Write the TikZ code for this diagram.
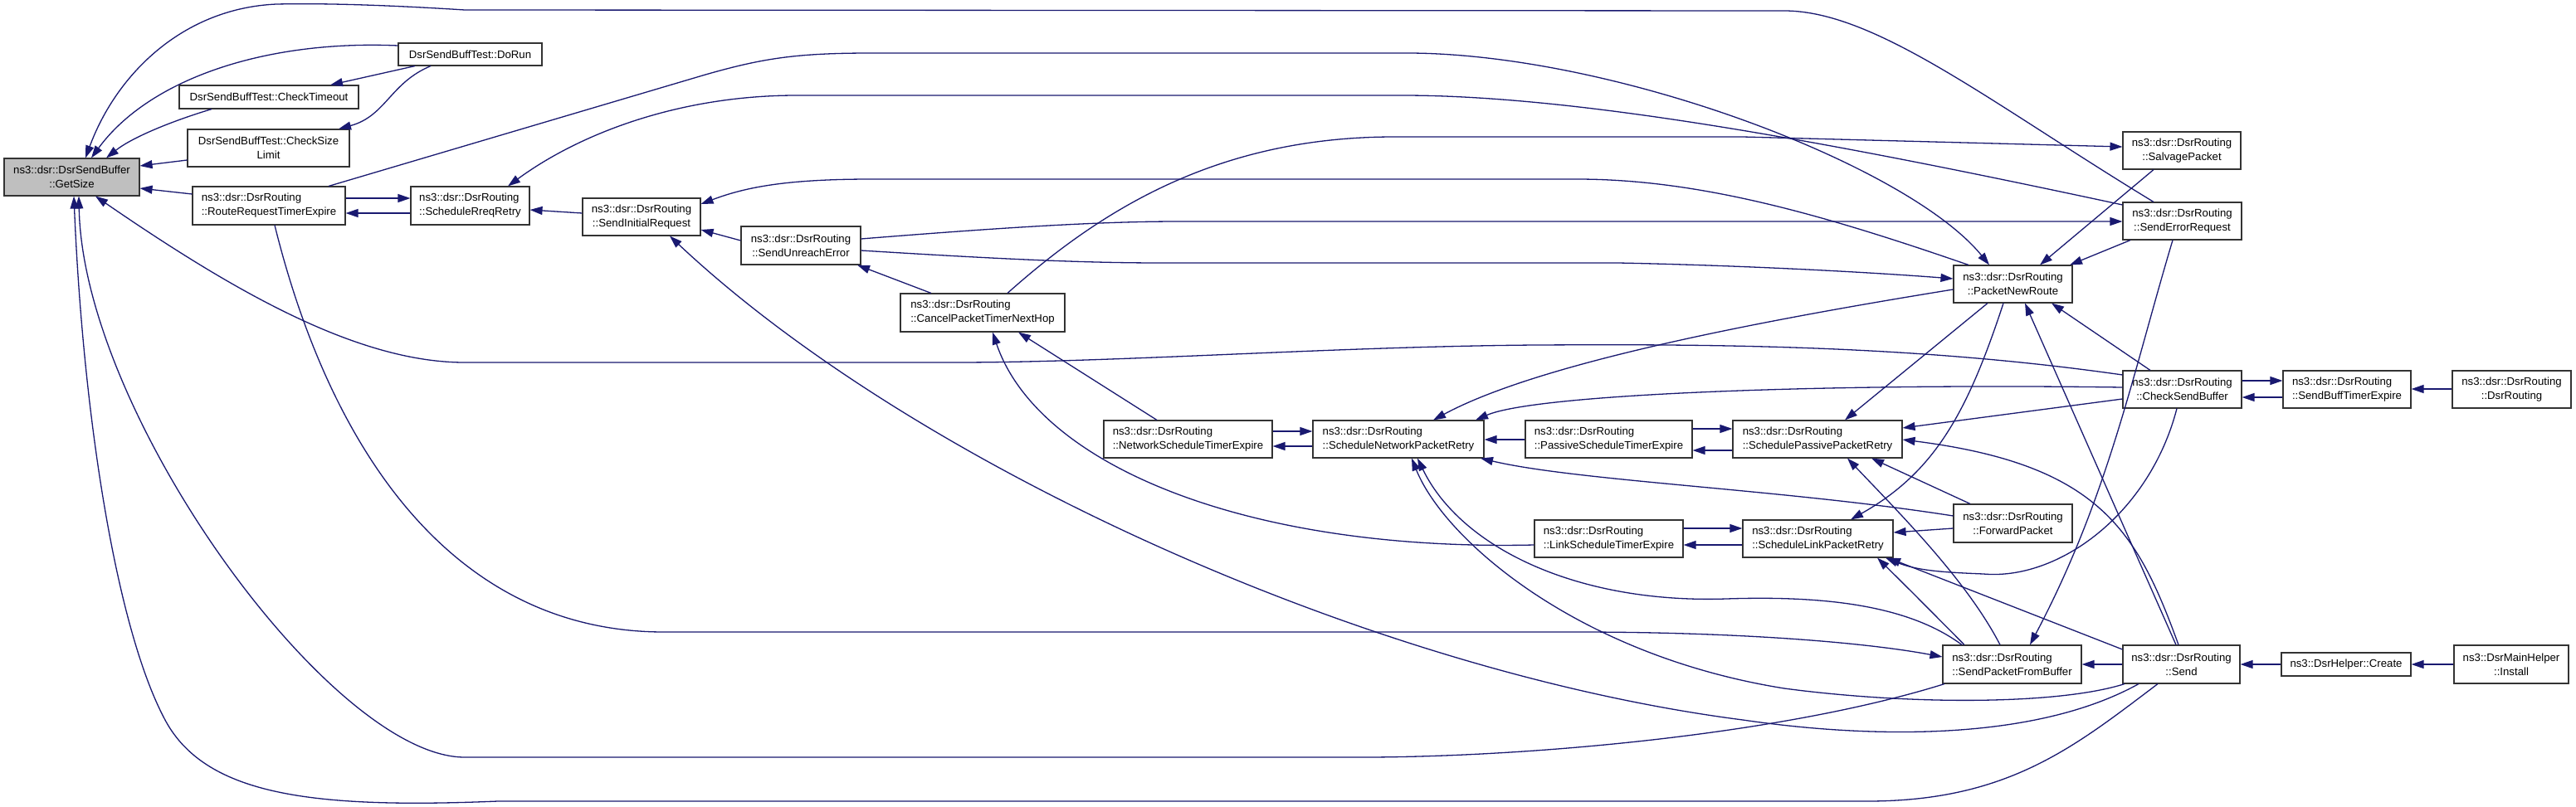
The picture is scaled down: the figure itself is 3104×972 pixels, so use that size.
\documentclass[tikz,border=0pt]{standalone}
\usepackage{fontspec}
\setmainfont{Liberation Sans}
\usetikzlibrary{arrows.meta}
\definecolor{edgec}{RGB}{25,25,112}
\definecolor{rootfill}{RGB}{191,191,191}
\newsavebox\twolA
\newsavebox\twolB
\newcommand\twol[2]{\sbox\twolA{#1}\sbox\twolB{#2}\ifdim\wd\twolA<\wd\twolB\makebox[\wd\twolB][l]{#1}\else#1\fi\\#2}
\newcommand\lbf{\fontsize{13.2}{17}\selectfont}
\tikzset{
  box/.style={draw=black!80, line width=1.1pt, fill=white, inner sep=0pt, align=center, font=\lbf},
  ed/.style={draw=edgec, line width=1.3pt, -{Triangle[length=15pt,width=10pt]}},
}
\begin{document}
\begin{tikzpicture}[x=1pt,y=-1pt]
\fill[white] (0,0) rectangle (3104,972);
\useasboundingbox (0,0) rectangle (3104,972);
% nodes
\node[box, fill=rootfill, minimum width=163pt, minimum height=45pt] (GS) at (86.5,213.5) {\twol{ns3::dsr::DsrSendBuffer}{::GetSize}};
\node[box, minimum width=173pt, minimum height=27pt] (DR) at (566.5,65.5) {DsrSendBuffTest::DoRun};
\node[box, minimum width=216pt, minimum height=28pt] (CT) at (324,117) {DsrSendBuffTest::CheckTimeout};
\node[box, minimum width=195pt, minimum height=45pt] (CSL) at (323.5,178.5) {\twol{DsrSendBuffTest::CheckSize}{Limit}};
\node[box, minimum width=184pt, minimum height=46pt] (RRTE) at (324,248) {\twol{ns3::dsr::DsrRouting}{::RouteRequestTimerExpire}};
\node[box, minimum width=143pt, minimum height=46pt] (SRR) at (566.5,248) {\twol{ns3::dsr::DsrRouting}{::ScheduleRreqRetry}};
\node[box, minimum width=142pt, minimum height=45pt] (SIR) at (773,261.5) {\twol{ns3::dsr::DsrRouting}{::SendInitialRequest}};
\node[box, minimum width=144pt, minimum height=46pt] (SUE) at (965,296) {\twol{ns3::dsr::DsrRouting}{::SendUnreachError}};
\node[box, minimum width=198pt, minimum height=46pt] (CPT) at (1184,377) {\twol{ns3::dsr::DsrRouting}{::CancelPacketTimerNextHop}};
\node[box, minimum width=203pt, minimum height=45pt] (NSTE) at (1431.5,529.5) {\twol{ns3::dsr::DsrRouting}{::NetworkScheduleTimerExpire}};
\node[box, minimum width=206pt, minimum height=45pt] (SNPR) at (1685,529.5) {\twol{ns3::dsr::DsrRouting}{::ScheduleNetworkPacketRetry}};
\node[box, minimum width=201pt, minimum height=45pt] (PSTE) at (1938.5,529.5) {\twol{ns3::dsr::DsrRouting}{::PassiveScheduleTimerExpire}};
\node[box, minimum width=204pt, minimum height=45pt] (SPPR) at (2190,529.5) {\twol{ns3::dsr::DsrRouting}{::SchedulePassivePacketRetry}};
\node[box, minimum width=179pt, minimum height=45pt] (LSTE) at (1938.5,649.5) {\twol{ns3::dsr::DsrRouting}{::LinkScheduleTimerExpire}};
\node[box, minimum width=181pt, minimum height=45pt] (SLPR) at (2190.5,649.5) {\twol{ns3::dsr::DsrRouting}{::ScheduleLinkPacketRetry}};
\node[box, minimum width=143pt, minimum height=46pt] (FP) at (2425.5,631) {\twol{ns3::dsr::DsrRouting}{::ForwardPacket}};
\node[box, minimum width=143pt, minimum height=45pt] (PNR) at (2425.5,342.5) {\twol{ns3::dsr::DsrRouting}{::PacketNewRoute}};
\node[box, minimum width=142pt, minimum height=45pt] (SP) at (2629,181.5) {\twol{ns3::dsr::DsrRouting}{::SalvagePacket}};
\node[box, minimum width=143pt, minimum height=45pt] (SER) at (2629.5,266.5) {\twol{ns3::dsr::DsrRouting}{::SendErrorRequest}};
\node[box, minimum width=143pt, minimum height=45pt] (CSB) at (2629.5,469.5) {\twol{ns3::dsr::DsrRouting}{::CheckSendBuffer}};
\node[box, minimum width=154pt, minimum height=45pt] (SBTE) at (2828,469.5) {\twol{ns3::dsr::DsrRouting}{::SendBuffTimerExpire}};
\node[box, minimum width=143pt, minimum height=45pt] (DRC) at (3026.5,469.5) {\twol{ns3::dsr::DsrRouting}{::DsrRouting}};
\node[box, minimum width=167pt, minimum height=46pt] (SPFB) at (2424.5,801) {\twol{ns3::dsr::DsrRouting}{::SendPacketFromBuffer}};
\node[box, minimum width=141pt, minimum height=46pt] (SND) at (2628.5,801) {\twol{ns3::dsr::DsrRouting}{::Send}};
\node[box, minimum width=156pt, minimum height=28pt] (DHC) at (2827,801) {ns3::DsrHelper::Create};
\node[box, minimum width=138pt, minimum height=46pt] (DMI) at (3026,801) {\twol{ns3::DsrMainHelper}{::Install}};
% edges into GetSize
\draw[ed] (SER.north -| 2595,0) .. controls (2400,125) and (2260,13) .. (2150,13) -- (560,12) .. controls (450,5) and (380,4) .. (333,5) .. controls (220,10) and (140,90) .. (GS.north -| 103,0);
\draw[ed] (DR.west |- 0,55) .. controls (320,48) and (180,95) .. (GS.north -| 110,0);
\draw[ed] (CT.south -| 255,0) .. controls (210,145) and (160,165) .. (GS.north -| 128,0);
\draw[ed] (CSL.west |- 0,193) -- (GS.east |- 0,200);
\draw[ed] (RRTE.west |- 0,234) -- (GS.east |- 0,227);
\draw[ed] (CSB.west |- 0,452) .. controls (2300,415) and (2050,415) .. (1850,416) .. controls (1600,418) and (1350,437) .. (1150,437) -- (560,437) .. controls (430,437) and (280,350) .. (GS.south -| 115,0);
\draw[ed] (SPFB.south -| 2343,0) .. controls (2150,885) and (1850,912) .. (1650,913) -- (560,913) .. controls (400,913) and (100,500) .. (GS.south -| 95,0);
\draw[ed] (SND.south -| 2600,0) .. controls (2500,900) and (2420,966) .. (2250,966) -- (600,966) .. controls (380,975) and (250,960) .. (200,870) .. controls (140,760) and (100,500) .. (GS.south -| 89,0);
% test nodes
\draw[ed] (DR.south -| 500,0) -- (CT.north -| 398,0);
\draw[ed] (DR.south -| 519,0) .. controls (470,100) and (465,140) .. (CSL.north -| 408,0);
% rreq
\draw[ed] (RRTE.east |- 0,239) -- (SRR.west |- 0,239);
\draw[ed] (SRR.west |- 0,257) -- (RRTE.east |- 0,257);
\draw[ed] (SIR.west |- 0,257) -- (SRR.east |- 0,253);
\draw[ed] (SER.west |- 0,247) .. controls (2200,170) and (1900,115) .. (1690,115) -- (960,115) .. controls (820,115) and (700,160) .. (SRR.north -| 612,0);
\draw[ed] (RRTE.north -| 396,0) -- (850,90) .. controls (920,70) and (960,64) .. (1050,64) -- (1700,64) .. controls (1950,66) and (2300,200) .. (PNR.north -| 2397,0);
\draw[ed] (SP.south -| 2595,0) -- (PNR.north -| 2458,0);
\draw[ed] (SER.south -| 2567,0) -- (PNR.north -| 2494,0);
\draw[ed] (CPT.north -| 1214,0) .. controls (1330,250) and (1470,165) .. (1680,165) -- (2100,165) -- (SP.west |- 0,177);
\draw[ed] (PNR.north -| 2372,0) .. controls (2200,260) and (2050,216) .. (1900,216) -- (1050,216) .. controls (950,216) and (900,225) .. (SIR.east |- 0,246);
\draw[ed] (SUE.east |- 0,288) .. controls (1200,275) and (1320,267) .. (1420,267) -- (SER.west |- 0,267);
\draw[ed] (SUE.east |- 0,302) .. controls (1200,312) and (1300,317) .. (1400,317) -- (1950,317) .. controls (2100,320) and (2250,328) .. (PNR.west |- 0,336);
\draw[ed] (SUE.west |- 0,290) -- (SIR.east |- 0,277);
\draw[ed] (CPT.north -| 1122,0) -- (SUE.south -| 1033,0);
\draw[ed] (NSTE.north -| 1394,0) -- (CPT.south -| 1227,0);
\draw[ed] (LSTE.west |- 0,657) .. controls (1500,665) and (1250,560) .. (CPT.south -| 1196,0);
% network retry
\draw[ed] (NSTE.east |- 0,520) -- (SNPR.west |- 0,520);
\draw[ed] (SNPR.west |- 0,538) -- (NSTE.east |- 0,538);
\draw[ed] (PSTE.west |- 0,530) -- (SNPR.east |- 0,530);
\draw[ed] (PNR.west |- 0,349) .. controls (2100,390) and (1850,440) .. (SNPR.north -| 1727,0);
\draw[ed] (CSB.west |- 0,467) .. controls (2200,462) and (1850,475) .. (SNPR.north -| 1778,0);
\draw[ed] (FP.west |- 0,622) .. controls (2150,590) and (1900,580) .. (SNPR.south -| 1784,0);
\draw[ed] (SPFB.north -| 2364,0) .. controls (2300,730) and (2200,718) .. (2080,722) .. controls (1900,728) and (1760,660) .. (SNPR.south -| 1708,0);
\draw[ed] (SND.south -| 2560,0) .. controls (2480,850) and (2300,850) .. (2150,830) .. controls (1900,790) and (1740,650) .. (SNPR.south -| 1701,0);
% passive retry
\draw[ed] (PSTE.east |- 0,517) -- (SPPR.west |- 0,517);
\draw[ed] (SPPR.west |- 0,543) -- (PSTE.east |- 0,543);
\draw[ed] (PNR.south -| 2395,0) -- (SPPR.north -| 2223,0);
\draw[ed] (CSB.west |- 0,481) -- (SPPR.east |- 0,516);
\draw[ed] (SND.north -| 2625,0) .. controls (2575,640) and (2530,560) .. (SPPR.east |- 0,530);
\draw[ed] (FP.north -| 2374,0) -- (SPPR.south -| 2255,0);
\draw[ed] (SPFB.north -| 2410,0) .. controls (2370,700) and (2290,620) .. (SPPR.south -| 2226,0);
% link retry
\draw[ed] (LSTE.east |- 0,637) -- (SLPR.west |- 0,637);
\draw[ed] (SLPR.west |- 0,657) -- (LSTE.east |- 0,657);
\draw[ed] (PNR.south -| 2414,0) .. controls (2370,500) and (2330,570) .. (SLPR.north -| 2230,0);
\draw[ed] (FP.west |- 0,637) -- (SLPR.east |- 0,642);
\draw[ed] (SPFB.north -| 2367,0) .. controls (2320,730) and (2290,700) .. (SLPR.south -| 2262,0);
\draw[ed] (SND.west |- 0,783) -- (SLPR.south -| 2275,0);
\draw[ed] (CSB.south -| 2623,0) .. controls (2590,620) and (2480,700) .. (2390,692) .. controls (2340,690) and (2310,688) .. (SLPR.south -| 2272,0);
% send / buffer
\draw[ed] (SER.south -| 2618,0) .. controls (2570,450) and (2540,600) .. (SPFB.north -| 2446,0);
\draw[ed] (SND.north -| 2622,0) -- (PNR.south -| 2440,0);
\draw[ed] (RRTE.south -| 331,0) .. controls (400,550) and (550,762) .. (800,762) -- (1900,762) .. controls (2100,762) and (2250,775) .. (SPFB.west |- 0,792);
\draw[ed] (SND.west |- 0,801) -- (SPFB.east |- 0,801);
\draw[ed] (DHC.west |- 0,801) -- (SND.east |- 0,801);
\draw[ed] (DMI.west |- 0,801) -- (DHC.east |- 0,801);
\draw[ed] (CSB.east |- 0,459) -- (SBTE.west |- 0,459);
\draw[ed] (SBTE.west |- 0,479) -- (CSB.east |- 0,479);
\draw[ed] (DRC.west |- 0,469) -- (SBTE.east |- 0,469);
\draw[ed] (CSB.north -| 2591,0) -- (PNR.south -| 2472,0);
\draw[ed] (SND.south -| 2577,0) .. controls (2450,895) and (2250,890) .. (2100,868) .. controls (1650,810) and (1100,560) .. (SIR.south -| 807,0);
\end{tikzpicture}
\end{document}
